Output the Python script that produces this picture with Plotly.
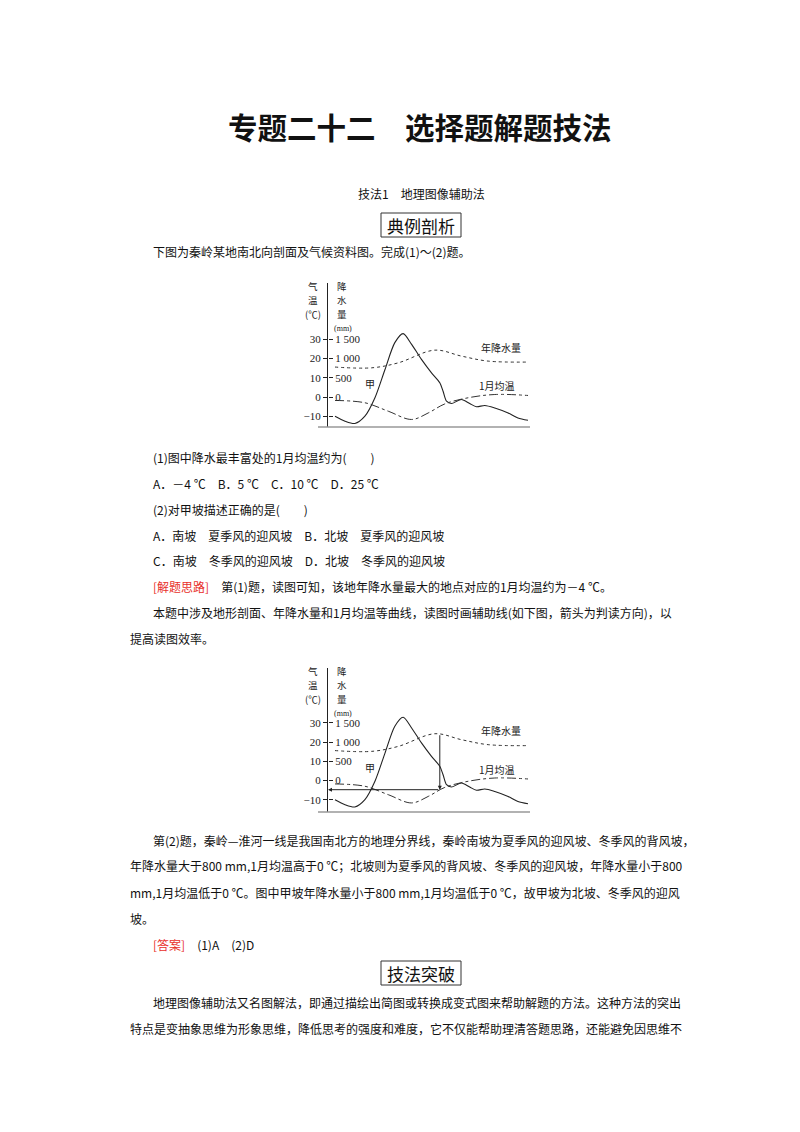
import plotly.graph_objects as go

W, H = 800, 1132
FONT = "Noto Sans CJK SC"

# ---- chart data (x: position along profile 0-100) ----
terrain_x = [0, 5.2, 10.3, 15.5, 20.7, 25.9, 31.0, 35.3, 39.7, 44.8, 50.0, 54.3, 56.0, 57.8, 60.3, 65.5, 69.8, 73.3, 77.6, 82.8, 89.7, 94.8, 100]
terrain_t = [-10, -12.6, -13.8, -10, -0.4, 14.3, 28.3, 33, 27.4, 19.6, 12.6, 7.4, 3, -2.2, -3.4, -1.3, -3.4, -5.1, -4.4, -5.7, -8.3, -10.9, -12.1]
precip_x = [0, 19.0, 32.8, 51.7, 65.5, 79.3, 100]
precip_mm = [780, 760, 890, 1220, 1065, 935, 910]
jan_x = [0, 15.5, 27.6, 39.7, 48.3, 56.9, 69.0, 82.8, 100]
jan_t = [-1.8, -3, -7.4, -11.7, -8.3, -3.6, -0.4, 1.3, 0.8]
temp_ticks = [30, 20, 10, 0, -10]
mm_labels = ["1 500", "1 000", "500", "0", ""]
arrow_x = 54.3
arrow_t = -4.8

fig = go.Figure()

def py(p):
    return 1 - p / H

def px(p):
    return p / W

def chart(idx, top, bottom, zero_py, unit_px, arrows):
    xa = "x" if idx == 1 else f"x{idx}"
    ya = "y" if idx == 1 else f"y{idx}"
    ya2 = f"y{idx+10}"
    xk = "xaxis" if idx == 1 else f"xaxis{idx}"
    yk = "yaxis" if idx == 1 else f"yaxis{idx}"
    yk2 = f"yaxis{idx+10}"
    x0 = (320 - 327) / 1.93
    x1 = (522 - 327) / 1.93
    ylo = (zero_py - bottom) / unit_px
    yhi = (zero_py - top) / unit_px
    fig.add_trace(go.Scatter(x=terrain_x, y=terrain_t, mode="lines", line=dict(color="#222", width=1.1, shape="spline", smoothing=0.8), xaxis=xa, yaxis=ya, showlegend=False))
    fig.add_trace(go.Scatter(x=precip_x, y=[m / 50 for m in precip_mm], mode="lines", line=dict(color="#333", width=1, dash="dot", shape="spline"), xaxis=xa, yaxis=ya, showlegend=False))
    fig.add_trace(go.Scatter(x=jan_x, y=jan_t, mode="lines", line=dict(color="#333", width=1, dash="dashdot", shape="spline"), xaxis=xa, yaxis=ya, showlegend=False))
    dom_x = [px(320), px(522)]
    dom_y = [py(bottom), py(top)]
    fig.update_layout(**{
        xk: dict(domain=dom_x, range=[x0, x1], showline=False, showgrid=False, zeroline=False, showticklabels=False, anchor=ya),
        yk: dict(domain=dom_y, range=[ylo, yhi], showline=True, linecolor="#222", linewidth=1.1, showgrid=False, zeroline=False,
                 tickvals=temp_ticks, ticks="outside", ticklen=4, tickcolor="#222", tickfont=dict(family="Liberation Serif", size=11, color="#222"), anchor=xa),
        yk2: dict(domain=dom_y, range=[ylo * 50, yhi * 50], overlaying=ya, side="right", anchor="free", position=px(320),
                  showline=False, showgrid=False, zeroline=False, tickvals=[t * 50 for t in temp_ticks], ticktext=mm_labels,
                  ticks="outside", ticklen=4, tickcolor="#222", tickfont=dict(family="Liberation Serif", size=11, color="#222")),
    })
    fig.add_trace(go.Scatter(x=[None], y=[None], xaxis=xa, yaxis=ya2, showlegend=False))
    fig.add_shape(type="line", xref="paper", yref="paper", x0=px(310), x1=px(522), y0=py(bottom), y1=py(bottom), line=dict(color="#999", width=1.5))
    fs = dict(family=FONT, size=9.5, color="#222")
    for i, (a, b) in enumerate([("气", "降"), ("温", "水"), ("(℃)", "量")]):
        yy = top + 3 + i * 14
        fig.add_annotation(xref="paper", yref="paper", x=px(305), y=py(yy), text=a, showarrow=False, font=fs, xanchor="center", yanchor="middle")
        fig.add_annotation(xref="paper", yref="paper", x=px(334), y=py(yy), text=b, showarrow=False, font=fs, xanchor="center", yanchor="middle")
    fig.add_annotation(xref="paper", yref="paper", x=px(335), y=py(top + 45), text="(mm)", showarrow=False, font=dict(family="Liberation Serif", size=8, color="#222"), xanchor="center", yanchor="middle")
    fl = dict(family=FONT, size=10, color="#222")
    fig.add_annotation(xref=xa, yref=ya, x=86, y=26, text="年降水量", showarrow=False, font=fl)
    fig.add_annotation(xref=xa, yref=ya, x=84, y=6, text="1月均温", showarrow=False, font=fl)
    fig.add_annotation(xref=xa, yref=ya, x=18, y=7, text="甲", showarrow=False, font=fl)
    if arrows:
        fig.add_annotation(xref=xa, yref=ya, axref=xa, ayref=ya, x=arrow_x, y=arrow_t, ax=arrow_x, ay=precip_mm[3] / 50,
                           showarrow=True, arrowhead=2, arrowsize=0.8, arrowwidth=1, arrowcolor="#222", text="")
        fig.add_annotation(xref=xa, yref=ya, axref=xa, ayref=ya, x=x0, y=arrow_t, ax=arrow_x, ay=arrow_t,
                           showarrow=True, arrowhead=2, arrowsize=0.8, arrowwidth=1, arrowcolor="#222", text="")

chart(1, 275, 419, 389, 1.92, False)
chart(2, 660, 804, 772.5, 1.917, True)

def txt(x, y, s, size=12.5, anchor="left", color="#111", bold=False):
    if bold:
        s = f"<b>{s}</b>"
    fig.add_annotation(xref="paper", yref="paper", x=px(x), y=py(y), text=s, showarrow=False,
                       xanchor=anchor, yanchor="middle", font=dict(family=FONT, size=size, color=color))

txt(412, 118, "专题二十二　选择题解题技法", size=29.5, anchor="center", bold=True)
txt(413, 185, "技法1　地理图像辅助法", size=12, anchor="center")
for y0, lab in [(217, "典例剖析"), (965, "技法突破")]:
    fig.add_shape(type="rect", xref="paper", yref="paper", x0=px(373), x1=px(453), y0=py(y0 - 12), y1=py(y0 + 12), line=dict(color="#333", width=1))
    txt(413, y0, lab, size=17, anchor="center")

RED = "#e8302a"
lines = [
    (143, 244, "下图为秦岭某地南北向剖面及气候资料图。完成(1)～(2)题。"),
    (143, 450, "(1)图中降水最丰富处的1月均温约为(　　)"),
    (143, 475, "A．－4 ℃　B．5 ℃　C．10 ℃　D．25 ℃"),
    (143, 501, "(2)对甲坡描述正确的是(　　)"),
    (143, 527, "A．南坡　夏季风的迎风坡　B．北坡　夏季风的迎风坡"),
    (143, 552, "C．南坡　冬季风的迎风坡　D．北坡　冬季风的迎风坡"),
    (143, 578, f"<span style='color:{RED}'>[解题思路]</span>　第(1)题，读图可知，该地年降水量最大的地点对应的1月均温约为－4 ℃。"),
    (143, 604, "本题中涉及地形剖面、年降水量和1月均温等曲线，读图时画辅助线(如下图，箭头为判读方向)，以"),
    (120, 630, "提高读图效率。"),
    (143, 832, "第(2)题，秦岭—淮河一线是我国南北方的地理分界线，秦岭南坡为夏季风的迎风坡、冬季风的背风坡，"),
    (120, 858, "年降水量大于800 mm,1月均温高于0 ℃；北坡则为夏季风的背风坡、冬季风的迎风坡，年降水量小于800"),
    (120, 884, "mm,1月均温低于0 ℃。图中甲坡年降水量小于800 mm,1月均温低于0 ℃，故甲坡为北坡、冬季风的迎风"),
    (120, 910, "坡。"),
    (143, 936, f"<span style='color:{RED}'>[答案]</span>　(1)A　(2)D"),
    (143, 994, "地理图像辅助法又名图解法，即通过描绘出简图或转换成变式图来帮助解题的方法。这种方法的突出"),
    (120, 1020, "特点是变抽象思维为形象思维，降低思考的强度和难度，它不仅能帮助理清答题思路，还能避免因思维不"),
]
for x, y, s in lines:
    txt(x, y, s, size=12)

fig.update_layout(width=W, height=H, margin=dict(l=0, r=0, t=0, b=0), paper_bgcolor="white", plot_bgcolor="white")
fig.write_html("out.html")
